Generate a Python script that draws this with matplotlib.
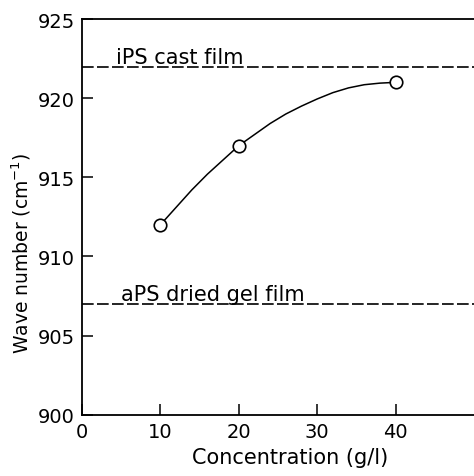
import numpy as np
import matplotlib.pyplot as plt

plt.rcParams.update({
    "font.family": ["DejaVu Sans"],
    "font.size": 14,
})

# measured points
conc = [10, 20, 40]
wave = [912, 917, 921]

# hand-drawn guide curve
curve_x = [10, 12, 14, 16, 18, 20, 22, 24, 26, 28, 30, 32, 34, 36, 38, 40]
curve_y = [912, 913.1, 914.2, 915.2, 916.1, 917, 917.7, 918.4, 919.0,
           919.5, 919.95, 920.35, 920.65, 920.85, 920.95, 921]

ips_cast = 922
aps_gel = 907

fig = plt.figure(figsize=(4.74, 4.77), dpi=100)
ax = fig.add_axes([0.173, 0.1285, 0.827, 0.8295])

ax.plot(curve_x, curve_y, color='black', lw=1.1, zorder=2)
ax.plot(conc, wave, 'o', ms=9, mfc='white', mec='black', mew=1.2, zorder=3)

ax.axhline(ips_cast, color='black', lw=1.2, dashes=(7, 2))
ax.axhline(aps_gel, color='black', lw=1.2, dashes=(7, 2))
ax.text(4.3, ips_cast + 0.25, "iPS cast film", fontsize=15)
ax.text(5.0, aps_gel + 0.25, "aPS dried gel film", fontsize=15)

ax.set_xlim(0, 50)
ax.set_ylim(900, 925)
ax.set_xticks([0, 10, 20, 30, 40])
ax.set_yticks([900, 905, 910, 915, 920, 925])
ax.tick_params(direction='in', length=8, width=1.1, pad=5, labelsize=14)
for s in ['left', 'bottom', 'top']:
    ax.spines[s].set_linewidth(1.3)
ax.spines['right'].set_visible(False)

ax.set_xlabel("Concentration (g/l)", fontsize=15)
ax.set_ylabel("Wave number (cm$^{-1}$)", fontsize=13.5)
ax.xaxis.set_label_coords(0.53, -0.082)
ax.yaxis.set_label_coords(-0.125, 0.41)

plt.savefig("out.png", dpi=100)
